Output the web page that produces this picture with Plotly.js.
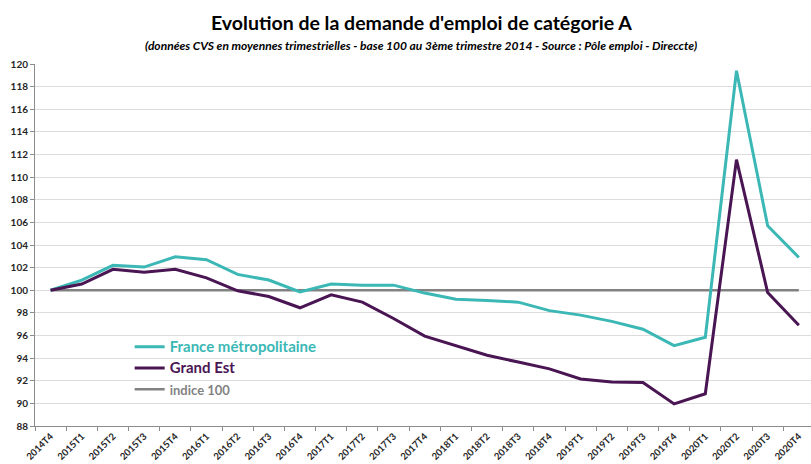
<!DOCTYPE html>
<html>
<head>
<meta charset="utf-8">
<script src="https://cdn.plot.ly/plotly-3.0.1.min.js"></script>
<style>html,body{margin:0;padding:0;background:#fff}#chart{width:811px;height:464px}</style>
</head>
<body>
<div id="chart"></div>
<script>
const categories = ["2014T4","2015T1","2015T2","2015T3","2015T4","2016T1","2016T2","2016T3","2016T4","2017T1","2017T2","2017T3","2017T4","2018T1","2018T2","2018T3","2018T4","2019T1","2019T2","2019T3","2019T4","2020T1","2020T2","2020T3","2020T4"];
const franceMetro = [100.0,100.9,102.2,102.05,102.95,102.7,101.4,100.9,99.85,100.55,100.45,100.45,99.75,99.2,99.1,98.95,98.2,97.8,97.25,96.55,95.1,95.85,119.4,105.7,102.9];
const grandEst = [100.0,100.55,101.85,101.6,101.85,101.1,99.95,99.45,98.45,99.6,98.95,97.5,95.95,95.1,94.25,93.65,93.05,92.15,91.9,91.85,89.95,90.85,111.55,99.8,96.9];
const indice100 = [100,100,100,100,100,100,100,100,100,100,100,100,100,100,100,100,100,100,100,100,100,100,100,100,100];
const yTicks = [88,90,92,94,96,98,100,102,104,106,108,110,112,114,116,118,120];

const FONT = "Lato, 'Open Sans', sans-serif";
const teal = "#3bb8b5";
const purple = "#4a1553";
const grey = "#828282";

const traces = [
  {x: categories, y: indice100, type: "scatter", mode: "lines", legendrank: 3,
   name: '<span style="color:' + grey + ';font-size:13px"><b>indice 100</b></span>',
   line: {color: grey, width: 2.5}},
  {x: categories, y: franceMetro, type: "scatter", mode: "lines", legendrank: 1,
   name: '<span style="color:' + teal + ';font-size:15px"><b>France métropolitaine</b></span>',
   line: {color: teal, width: 3}},
  {x: categories, y: grandEst, type: "scatter", mode: "lines", legendrank: 2,
   name: '<span style="color:' + purple + ';font-size:15px"><b>Grand Est</b></span>',
   line: {color: purple, width: 3}}
];

const layout = {
  width: 811, height: 464,
  margin: {l: 35, r: 0, t: 64, b: 38, pad: 0},
  paper_bgcolor: "#fff", plot_bgcolor: "#fff",
  font: {family: FONT, color: "#000"},
  showlegend: true,
  legend: {x: 0.122, y: 0.262, xanchor: "left", yanchor: "top", bgcolor: "rgba(0,0,0,0)",
           traceorder: "normal", itemwidth: 30, tracegroupgap: 0,
           font: {family: FONT, size: 14}},
  xaxis: {type: "category", range: [-0.5, 24.39], tickson: "boundaries",
          ticks: "outside", ticklen: 4, tickcolor: "#8c8c8c", showline: true, linecolor: "#8c8c8c", linewidth: 1,
          showgrid: false, tickangle: -45, automargin: false, fixedrange: true,
          tickfont: {family: FONT, size: 9.5, color: "#262626", weight: "bold"}},
  yaxis: {range: [88, 120], tickvals: yTicks, ticktext: yTicks.map(String),
          ticks: "outside", ticklen: 4, tickcolor: "#8c8c8c", showline: true, linecolor: "#8c8c8c", linewidth: 1,
          showgrid: true, gridcolor: "#dcdcdc", gridwidth: 1, zeroline: false, automargin: false,
          tickfont: {family: FONT, size: 10, color: "#262626", weight: "bold"}},
  annotations: [
    {text: "<b>Evolution de la demande d'emploi de catégorie A</b>", xref: "paper", yref: "paper",
     x: (421 - 35) / 776, y: 1, yshift: 42, xanchor: "center", yanchor: "middle", showarrow: false,
     font: {family: FONT, size: 19.5, color: "#000"}},
    {text: "<b><i>(données CVS en moyennes trimestrielles - base 100 au 3ème trimestre 2014 - Source : Pôle emploi - Direccte)</i></b>",
     xref: "paper", yref: "paper",
     x: (421 - 35) / 776, y: 1, yshift: 19, xanchor: "center", yanchor: "middle", showarrow: false,
     font: {family: FONT, size: 12, color: "#000"}}
  ]
};

Plotly.newPlot("chart", traces, layout, {displayModeBar: false, staticPlot: true});
</script>
</body>
</html>
